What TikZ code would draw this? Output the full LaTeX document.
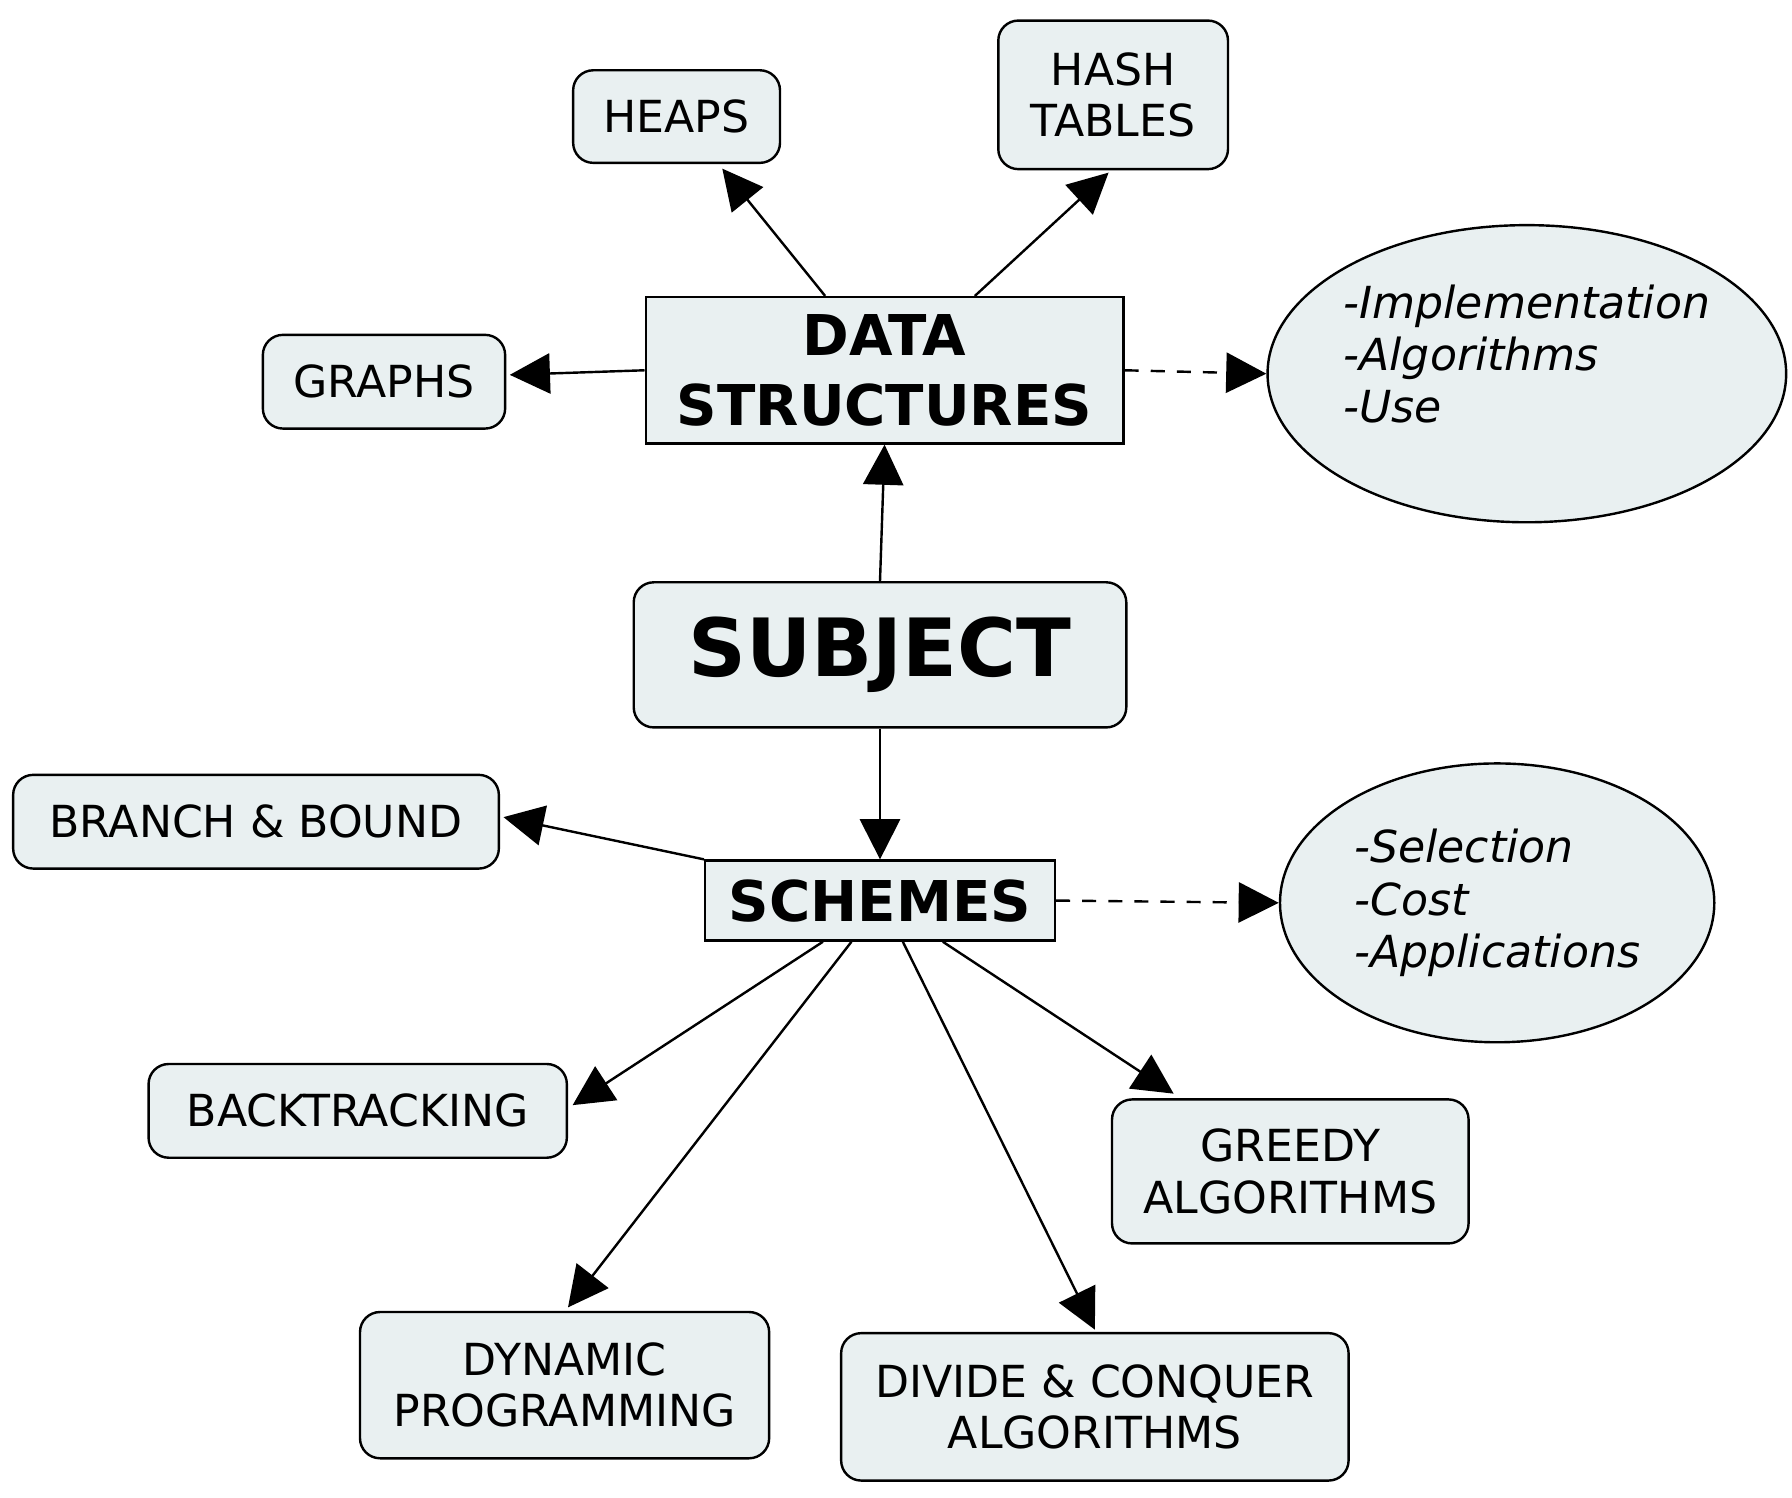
\documentclass[tikz,border=0pt]{standalone}
\usepackage{fontspec}
\setmainfont{DejaVu Sans}
\usetikzlibrary{arrows.meta,shapes.geometric,calc}
\definecolor{boxfill}{HTML}{E9F0F1}
\begin{document}
\begin{tikzpicture}[x=0.02cm,y=-0.02cm,
  box/.style={draw,line width=1.2pt,fill=boxfill,rounded corners=10pt,align=center,inner sep=0pt,font=\fontsize{22}{25.5}\selectfont},
  sq/.style={draw,line width=1.2pt,fill=boxfill,align=center,inner sep=0pt,font=\bfseries\fontsize{28}{35}\selectfont},
  ell/.style={draw,line width=1.2pt,fill=boxfill,ellipse,inner sep=0pt,align=left,font=\itshape\fontsize{22}{26}\selectfont},
  arr/.style={line width=1.2pt,-{Triangle[length=20pt,width=20pt]}},
  darr/.style={arr,dashed,dash pattern=on 7pt off 6pt}]
\useasboundingbox (0,0) rectangle (1568,1310);
\node[box,minimum width=181*0.02cm,minimum height=81*0.02cm] (heaps) at (592,102) {HEAPS};
\node[box,minimum width=201*0.02cm,minimum height=130*0.02cm] (hash) at (974,83) {HASH\\TABLES};
\node[box,minimum width=212*0.02cm,minimum height=82*0.02cm] (graphs) at (336,334) {GRAPHS};
\node[sq,minimum width=418*0.02cm,minimum height=128*0.02cm] (ds) at (774,324) {DATA\\STRUCTURES};
\node[ell,minimum width=444*0.02cm,minimum height=260*0.02cm] (e1) at (1336,327) {-Implementation\\-Algorithms\\-Use\\[-6pt]};
\node[box,font=\bfseries\fontsize{40}{48}\selectfont,minimum width=431*0.02cm,minimum height=127*0.02cm] (subj) at (770,573) {SUBJECT};
\node[box,minimum width=425*0.02cm,minimum height=82*0.02cm] (bb) at (224,719) {BRANCH \& BOUND};
\node[sq,minimum width=306*0.02cm,minimum height=70*0.02cm] (sch) at (770,788) {SCHEMES};
\node[ell,minimum width=380*0.02cm,minimum height=244*0.02cm] (e2) at (1310,790) {-Selection\\-Cost\\-Applications};
\node[box,minimum width=366*0.02cm,minimum height=82*0.02cm] (bt) at (313,972) {BACKTRACKING};
\node[box,minimum width=312*0.02cm,minimum height=126*0.02cm] (gr) at (1129,1025) {GREEDY\\ALGORITHMS};
\node[box,minimum width=358*0.02cm,minimum height=128*0.02cm] (dp) at (494,1212) {DYNAMIC\\PROGRAMMING};
\node[box,minimum width=444*0.02cm,minimum height=129*0.02cm] (dc) at (958,1231) {DIVIDE \& CONQUER\\ALGORITHMS};
\draw[arr] ($(ds.north)+(-52,0)$) -- ($(heaps.south)+(40,4)$);
\draw[arr] ($(ds.north)+(79,0)$) -- ($(hash.south)+(-4,2)$);
\draw[arr] (ds.west) -- ($(graphs.east)+(3,-6)$);
\draw[darr] (ds.east) -- (e1.west);
\draw[arr] (subj.north) -- (ds.south);
\draw[arr] (subj.south) -- (sch.north);
\draw[arr] (sch.north west) -- ($(bb.east)+(3,-4)$);
\draw[darr] (sch.east) -- (e2.west);
\draw[arr] ($(sch.south)+(-50,0)$) -- ($(bt.east)+(4,-5)$);
\draw[arr] ($(sch.south)+(-25,0)$) -- ($(dp.north)+(3,-3)$);
\draw[arr] ($(sch.south)+(20,0)$) -- ($(dc.north)+(0,-2)$);
\draw[arr] ($(sch.south)+(55,0)$) -- ($(gr.north west)+(55,-4)$);
\end{tikzpicture}
\end{document}
